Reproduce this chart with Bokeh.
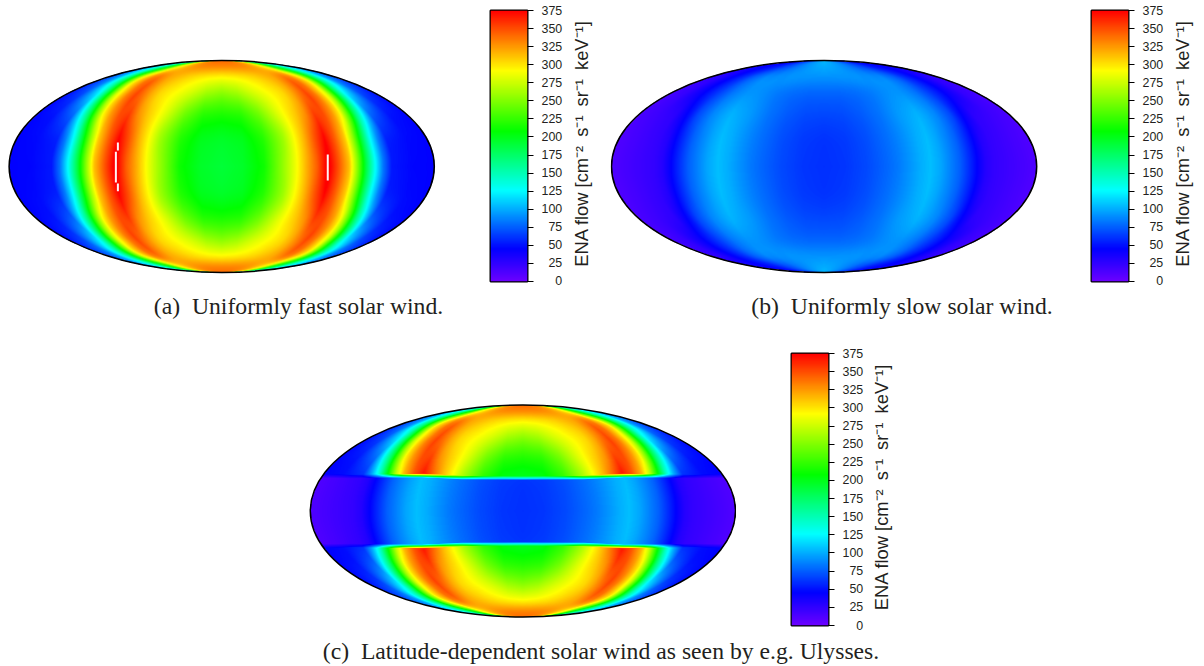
import numpy as np
from bokeh.core.properties import value
from bokeh.embed import file_html
from bokeh.layouts import column, row
from bokeh.models import FixedTicker, LinearColorMapper, Spacer
from bokeh.plotting import figure
from bokeh.resources import INLINE

# ----- values -----
cbar_ticks = list(range(0, 376, 25))
cbar_label = "ENA flow [cm\u207b\u00b2\u2002s\u207b\u00b9\u2002sr\u207b\u00b9\u2002keV\u207b\u00b9]"
captions = ["(a)\u2002Uniformly fast solar wind.",
            "(b)\u2002Uniformly slow solar wind.",
            "(c)\u2002Latitude-dependent solar wind as seen by e.g. Ulysses."]

lon_fraction = [0, .1, .2, .3, .35, .4, .45, .5, .55, .6, .64, .68, .72, .76, .8, .9, 1]
height_fraction = [0, .3, .5, .7, .85, .95, 1]
fast_y00 = [190, 195, 212, 262, 288, 318, 345, 382, 348, 312, 250, 185, 130, 82, 52, 46, 45]
fast_y30 = [198, 202, 222, 262, 290, 315, 345, 372, 345, 310, 258, 195, 135, 90, 58, 48, 45]
fast_y50 = [218, 222, 245, 280, 296, 310, 328, 355, 350, 325, 295, 240, 175, 125, 80, 52, 46]
fast_y70 = [255, 262, 278, 292, 298, 305, 318, 335, 352, 335, 310, 280, 225, 170, 126, 70, 50]
fast_y85 = [296, 298, 302, 308, 312, 316, 320, 328, 335, 330, 312, 292, 255, 215, 175, 100, 65]
fast_y95 = [332, 332, 332, 330, 328, 325, 320, 312, 300, 285, 260, 225, 205, 185, 165, 125, 85]
fast_y100 = [340, 340, 338, 335, 332, 330, 325, 318, 305, 288, 262, 228, 208, 188, 168, 128, 95]
slow_y00 = [60, 62, 68, 78, 84, 92, 100, 106, 98, 85, 75, 60, 45, 30, 24, 18, 12]
slow_y30 = [62, 64, 70, 80, 86, 93, 100, 105, 97, 86, 76, 62, 47, 32, 25, 18, 12]
slow_y50 = [68, 69, 74, 82, 88, 94, 98, 102, 96, 88, 78, 68, 52, 40, 28, 20, 14]
slow_y70 = [78, 78, 80, 84, 87, 90, 92, 92, 88, 82, 74, 66, 58, 50, 42, 24, 16]
slow_y85 = [92, 92, 92, 92, 90, 90, 88, 88, 82, 76, 70, 62, 56, 50, 45, 30, 25]
slow_y95 = [100, 98, 94, 88, 84, 80, 74, 70, 65, 60, 55, 52, 50, 48, 45, 42, 40]
slow_y100 = [104, 100, 95, 90, 85, 80, 75, 70, 66, 62, 58, 54, 50, 48, 46, 44, 42]
# edge of the slow belt in panel (c): height fraction against fraction of the way to the limb
belt_lon = [0, .3, .5, .7, .85, 1]
belt_edge = [.30, .305, .325, .32, .315, .32]
sat_x = [-89.6, -87.9, -87.9, 89.8]
sat_y0 = [.14, .226, -.16, .113]
sat_y1 = [-.15, .151, -.233, -.132]

fast = np.array([fast_y00, fast_y30, fast_y50, fast_y70, fast_y85, fast_y95, fast_y100], float)
slow = np.array([slow_y00, slow_y30, slow_y50, slow_y70, slow_y85, slow_y95, slow_y100], float)

# ----- colours and layout -----
stops_v = [0, 45, 126, 208, 292, 375]
stops_rgb = np.array([[107, 0, 255], [0, 0, 255], [0, 255, 255], [0, 255, 0], [255, 255, 0], [255, 0, 0]], float)
levels = np.linspace(0, 375, 512)
palette = ["#%02x%02x%02x" % tuple(int(round(np.interp(l, stops_v, stops_rgb[:, i]))) for i in range(3)) for l in levels]
mapper = LinearColorMapper(palette=palette, low=0, high=375, nan_color="rgba(0,0,0,0)")
TEXT = "#231f20"
HALF_W, HALF_H = 212.6, 106.0
NX, NY = 425, 212
XS = (np.arange(NX) + .5) / NX * 2 - 1
YS = (np.arange(NY) + .5) / NY * 2 - 1


def smooth_rows(y, heights, table):
    # gouraud-like shading between the table's rows
    h = np.array(heights, float)
    s = np.gradient(table, h, axis=0)
    i = min(np.searchsorted(h, y, side="right") - 1, len(h) - 2)
    d = h[i + 1] - h[i]
    t = (y - h[i]) / d
    a = (2 * t**3 - 3 * t**2 + 1)
    b = (t**3 - 2 * t**2 + t) * d
    c = (-2 * t**3 + 3 * t**2)
    e = (t**3 - t**2) * d
    return a * table[i] + b * s[i] + c * table[i + 1] + e * s[i + 1]


def shade(table):
    img = np.full((NY, NX), np.nan)
    for j, y in enumerate(YS):
        half = np.sqrt(max(1 - y * y, 0))
        vals = smooth_rows(abs(y), height_fraction, table)
        inside = np.abs(XS) <= half
        img[j, inside] = np.interp(np.abs(XS[inside]) / half, lon_fraction, vals)
    return img


def shade_mixed():
    f, s = shade(fast), shade(slow)
    img = np.full((NY, NX), np.nan)
    for j, y in enumerate(YS):
        half = np.sqrt(max(1 - y * y, 0))
        inside = np.abs(XS) <= half
        edge = np.interp(np.abs(XS[inside]) / half, belt_lon, belt_edge)
        w = np.clip((edge + .03 - abs(y)) / .04, 0, 1)
        img[j, inside] = w * s[j, inside] + (1 - w) * f[j, inside]
    return img


def map_fig(img, left, top_gap, w, h, frame_top, frame_h, cx, cy):
    xr = ((left - cx) / HALF_W * 180, (left + w - cx) / HALF_W * 180)
    yr = ((cy - (frame_top + frame_h)) / HALF_H, (cy - frame_top) / HALF_H)
    p = figure(width=w, height=h, x_range=xr, y_range=yr, x_axis_type=None, y_axis_type=None, title=None,
               toolbar_location=None, output_backend="svg", outline_line_color=None,
               min_border_left=0, min_border_right=0, min_border_top=top_gap,
               min_border_bottom=h - top_gap - frame_h)
    p.grid.visible = False
    p.image(image=[img], x=-180, y=-1, dw=360, dh=2, color_mapper=mapper)
    p.ellipse(x=[0], y=[0], width=[360], height=[2], fill_color=None, line_color="black", line_width=1.5)
    return p


def cbar_fig(width, height, left_gap, top_gap, frame_h):
    frame_w = 37
    p = figure(width=width, height=height, x_range=(0, 1), y_range=(0, 375), x_axis_type=None, title=None,
               y_axis_location="right", toolbar_location=None, output_backend="svg",
               min_border_left=left_gap, min_border_right=width - left_gap - frame_w,
               min_border_top=top_gap, min_border_bottom=height - top_gap - frame_h,
               outline_line_color="black", outline_line_width=2)
    p.grid.visible = False
    ramp = np.linspace(0, 375, 512).reshape(-1, 1)
    p.image(image=[ramp], x=0, y=0, dw=1, dh=375, color_mapper=mapper)
    ax = p.yaxis[0]
    ax.ticker = FixedTicker(ticks=cbar_ticks)
    ax.major_label_overrides = {t: str(t).rjust(3, "\u2007") for t in cbar_ticks}
    ax.major_tick_in = 0
    ax.major_tick_out = 6
    ax.major_tick_line_color = "black"
    ax.minor_tick_line_color = None
    ax.axis_line_color = None
    ax.major_label_standoff = 8
    ax.major_label_text_font = "Liberation Sans"
    ax.major_label_text_font_size = "12.4px"
    ax.major_label_text_color = TEXT
    return p


def label_fig(width, height, top_gap, frame_h):
    p = figure(width=width, height=height, x_range=(0, width), y_range=(0, 375), x_axis_type=None, y_axis_type=None,
               title=None, toolbar_location=None, output_backend="svg", outline_line_color=None,
               min_border_left=0, min_border_right=0, min_border_top=top_gap,
               min_border_bottom=height - top_gap - frame_h)
    p.grid.visible = False
    p.text(x=[11], y=[191], text=[cbar_label], angle=np.pi / 2, text_align="center", text_baseline="middle",
           text_font=value("Liberation Sans"), text_font_size="18.3px", text_color=TEXT)
    return p


def caption_fig(height, items, base):
    p = figure(width=1204, height=height, x_range=(0, 1204), y_range=(height, 0), x_axis_type=None, y_axis_type=None,
               title=None, toolbar_location=None, output_backend="svg", outline_line_color=None,
               min_border_left=0, min_border_right=0, min_border_top=0, min_border_bottom=0)
    p.grid.visible = False
    for cx, txt in items:
        p.text(x=[cx], y=[base], text=[txt], text_font=value("Liberation Serif"), text_font_size="23.7px",
               text_color=TEXT, text_align="center", text_baseline="alphabetic")
    return p


R1_H = 287
CAP1_H = 38
mapa = map_fig(shade(fast), 0, 10, 436, R1_H, 10, 271, 221.2, 166)
bara = cbar_fig(134, R1_H, 54, 10, 271)
laba = label_fig(40, R1_H, 10, 271)
mapb = map_fig(shade(slow), 610, 10, 428, R1_H, 10, 271, 823.6, 166)
barb = cbar_fig(133, R1_H, 53, 10, 271)
labb = label_fig(33, R1_H, 10, 271)
mapa.segment(x0=sat_x, y0=sat_y0, x1=sat_x, y1=sat_y1, line_color="#fff4f4", line_width=2)

cap1 = caption_fig(CAP1_H, [(298, captions[0]), (901.5, captions[1])], 18)

R3_TOP = R1_H + CAP1_H
R3_H = 308
mapc = map_fig(shade_mixed(), 308, 353 - R3_TOP, 428, R3_H, 353, 272, 522.4, 510.5)
barc = cbar_fig(134, R3_H, 55, 353 - R3_TOP, 272)
labc = label_fig(40, R3_H, 353 - R3_TOP, 272)
cap2 = caption_fig(33, [(600.5, captions[2])], 17)

page = column(
    row(mapa, bara, laba, mapb, barb, labb),
    cap1,
    row(Spacer(width=308, height=R3_H), mapc, barc, labc),
    cap2,
)
open("out.html", "w").write(file_html(page, INLINE))
